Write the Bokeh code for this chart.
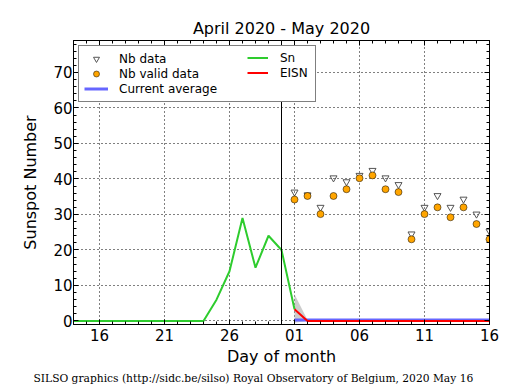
from bokeh.plotting import figure
from bokeh.models import (Range1d, FixedTicker, LinearAxis, Span, Legend, LegendItem,
                          Title, ColumnDataSource, CustomJSTickFormatter)
from bokeh.embed import file_html
from bokeh.resources import INLINE

# ---- data (day index: April d -> d, May d -> 30 + d) ----
sn_days = [14, 15, 16, 17, 18, 19, 20, 21, 22, 23, 24, 25, 26, 27, 28, 29, 30, 31]
sn_vals = [0, 0, 0, 0, 0, 0, 0, 0, 0, 0, 0, 6, 14, 29, 15, 24, 20, 3.3]

may_days = [31, 32, 33, 34, 35, 36, 37, 38, 39, 40, 41, 42, 43, 44, 45, 46]
nb_data = [36.3, 35.5, 32, 40.3, 39.2, 41, 42.4, 40.3, 38.4, 24.5, 32, 35.3, 32, 34.3, 30.1, 25.3]
nb_valid = [34.2, 35.2, 30.1, 35.2, 37.1, 40.2, 41, 37.1, 36.3, 23, 30.1, 32, 29.2, 32, 27.3, 23]
eisn = [3.3, 0, 0, 0, 0, 0, 0, 0, 0, 0, 0, 0, 0, 0, 0, 0]
eisn_lo = [-0.5, 0, 0, 0, 0, 0, 0, 0, 0, 0, 0, 0, 0, 0, 0, 0]
eisn_hi = [7.5, 0.3, 0, 0, 0, 0, 0, 0, 0, 0, 0, 0, 0, 0, 0, 0]
cur_avg = [0.3, 0.3, 0.3, 0.3, 0.3, 0.3, 0.3, 0.3, 0.3, 0.3, 0.3, 0.3, 0.3, 0.3, 0.3, 0.3]

x_tick_pos = [16, 21, 26, 31, 36, 41, 46]
x_tick_labels = ["16", "21", "26", "01", "06", "11", "16"]
x_minor = list(range(14, 47))
y_ticks = [0, 10, 20, 30, 40, 50, 60, 70]
y_minor = list(range(0, 80, 2))
month_boundary = 30

title_text = "April 2020 - May 2020"
footer_text = "SILSO graphics (http://sidc.be/silso) Royal Observatory of Belgium, 2020 May 16"

FONT = "DejaVu Sans"

p = figure(width=515, height=390, output_backend="svg", toolbar_location=None,
           x_range=Range1d(14, 46), y_range=Range1d(-1, 79),
           min_border_left=73, min_border_right=26, min_border_top=40, min_border_bottom=66)
p.outline_line_color = "black"
p.outline_line_width = 1
p.background_fill_color = "white"
p.border_fill_color = "white"

p.title = Title(text=title_text, align="center", text_font=FONT, text_font_size="16px",
                text_font_style="normal", text_color="black", standoff=6)

xt = FixedTicker(ticks=x_tick_pos, minor_ticks=x_minor)
yt = FixedTicker(ticks=y_ticks, minor_ticks=y_minor)

p.xaxis.ticker = xt
p.yaxis.ticker = yt
p.xaxis.major_label_overrides = {pos: lab for pos, lab in zip(x_tick_pos, x_tick_labels)}
for ax in (p.xaxis[0], p.yaxis[0]):
    ax.major_tick_in = 5
    ax.major_tick_out = 0
    ax.minor_tick_in = 3
    ax.minor_tick_out = 0
    ax.axis_line_color = "black"
    ax.major_tick_line_color = "black"
    ax.minor_tick_line_color = "black"
    ax.major_label_text_font = FONT
    ax.major_label_text_font_size = "15px"
    ax.major_label_text_color = "black"
    ax.axis_label_text_font = FONT
    ax.axis_label_text_font_size = "16px"
    ax.axis_label_text_font_style = "normal"
    ax.axis_label_text_color = "black"
p.xaxis.major_label_standoff = 4
p.yaxis.major_label_standoff = 1
p.xaxis.axis_label = "Day of month"
p.yaxis.axis_label = "Sunspot Number"
p.xaxis.axis_label_standoff = 3
p.yaxis.axis_label_standoff = 10

for loc, tk in (("above", xt), ("right", yt)):
    ax = LinearAxis(ticker=tk, formatter=CustomJSTickFormatter(code="return ''"),
                    major_tick_in=5, major_tick_out=0, minor_tick_in=3, minor_tick_out=0,
                    major_label_standoff=0, axis_line_color="black",
                    major_tick_line_color="black", minor_tick_line_color="black")
    p.add_layout(ax, loc)

p.xgrid.ticker = xt
p.ygrid.ticker = yt
p.grid.grid_line_color = "black"
p.grid.grid_line_dash = "1 3"
p.grid.grid_line_width = 1

src_may = ColumnDataSource(dict(x=may_days, nb=nb_data, nbv=nb_valid, e=eisn,
                                lo=eisn_lo, hi=eisn_hi, avg=cur_avg))
src_sn = ColumnDataSource(dict(x=sn_days, y=sn_vals))

p.varea(x="x", y1="lo", y2="hi", source=src_may, fill_color="#aaaaaa", fill_alpha=0.6)
r_sn = p.line("x", "y", source=src_sn, line_color="#2ecc2e", line_width=2)
r_avg = p.line("x", "avg", source=src_may, line_color="#6666ff", line_width=3)
r_eisn = p.line("x", "e", source=src_may, line_color="#ff0000", line_width=2)
r_nb = p.scatter("x", "nb", source=src_may, marker="inverted_triangle", size=7,
                 fill_color="white", fill_alpha=0, line_color="#555555", line_width=1)
r_nbv = p.scatter("x", "nbv", source=src_may, marker="circle", size=7,
                  fill_color="#ffa500", line_color="black", line_width=0.5)

p.add_layout(Span(location=month_boundary, dimension="height", line_color="black", line_width=1))

common = dict(padding=5, spacing=0, glyph_width=24, glyph_height=15, label_height=15,
              label_text_font=FONT, label_text_font_size="12px", label_text_color="black")
legA = Legend(items=[LegendItem(label="Nb data", renderers=[r_nb]),
                     LegendItem(label="Nb valid data", renderers=[r_nbv]),
                     LegendItem(label="Current average", renderers=[r_avg])],
              location="top_left", margin=5, label_standoff=11, label_width=191,
              border_line_color="black", border_line_width=1,
              background_fill_color="white", background_fill_alpha=1, **common)
legB = Legend(items=[LegendItem(label="Sn", renderers=[r_sn]),
                     LegendItem(label="EISN", renderers=[r_eisn])],
              location=(169, 239), margin=0, label_standoff=12,
              border_line_alpha=0, background_fill_alpha=0, **common)
legB.glyph_width = 21
p.add_layout(legA)
p.add_layout(legB)

p.add_layout(Title(text=footer_text, align="left", offset=-40, text_font="DejaVu Serif",
                   text_font_size="10.7px", text_font_style="normal", text_color="black",
                   standoff=2), "below")

open("out.html", "w").write(file_html(p, INLINE))
